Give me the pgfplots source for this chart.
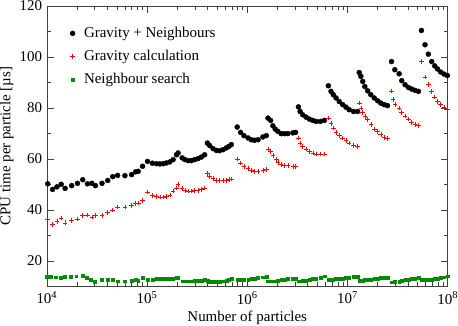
\documentclass[border={0pt 0pt 0pt 1pt}]{standalone}
\usepackage{fontspec}
\setmainfont{Liberation Serif}
\usepackage{pgfplots}
\pgfplotsset{compat=1.18}
\definecolor{ngreen}{RGB}{0,140,0}
\definecolor{pred}{RGB}{255,0,0}
\begin{document}
\fontsize{15}{18}\selectfont
\begin{tikzpicture}
\begin{axis}[
 scale only axis, width=402pt, height=281pt,
 xmode=log, xmin=1e4, xmax=1e8, ymin=10, ymax=120,
 ytick={20,40,60,80,100,120}, minor ytick={10,30,50,70,90,110},
 xtick={1e4,1e5,1e6,1e7,1e8},
 xticklabels={10\textsuperscript{4},10\textsuperscript{5},10\textsuperscript{6},10\textsuperscript{7},10\textsuperscript{8}},
 major tick length=7pt, minor tick length=4pt,
 /pgf/number format/assume math mode=true,
 tick label style={font=\fontsize{15}{18}\selectfont, inner sep=0pt},
 yticklabel style={xshift=-4.5pt},
 xticklabel style={yshift=-5.5pt},
 label style={font=\fontsize{15}{18}\selectfont, inner sep=0pt},
 xlabel={Number of particles}, ylabel={CPU time per particle [µs]},
 xlabel style={yshift=-7pt}, ylabel style={yshift=6pt},
 axis line style={black!75}, every tick/.style={black!75},
 legend style={draw=none, fill=none, at={(0.05,0.94)}, anchor=north west,
   font=\fontsize{15}{18}\selectfont, row sep=6.5pt,
   /tikz/every odd column/.append style={column sep=7pt}},
 legend cell align=left,
]
\addplot[only marks, mark=*, mark size=2.5pt, black] coordinates {
(1.02e4,50.2)(1.14e4,48.0)(1.26e4,49.0)(1.39e4,50.0)(1.52e4,48.4)(1.77e4,49.5)(2.02e4,50.4)(2.28e4,51.8)(2.54e4,50.2)(2.81e4,50.4)(3.05e4,49.5)(3.55e4,50.4)(4.05e4,51.5)(4.54e4,53.0)(5.08e4,53.5)(6.01e4,53.4)(7.01e4,53.8)(7.69e4,54.9)(8.17e4,55.1)(9.02e4,57.1)(1.01e5,59.0)(1.13e5,58.3)(1.24e5,58.1)(1.34e5,58.0)(1.45e5,58.1)(1.56e5,58.4)(1.69e5,58.8)(1.82e5,59.7)(1.97e5,61.6)(2.04e5,62.3)(2.24e5,60.4)(2.38e5,59.7)(2.57e5,59.3)(2.77e5,59.3)(2.99e5,59.7)(3.23e5,60.1)(3.48e5,60.7)(3.76e5,61.6)(4.00e5,66.2)(4.22e5,65.2)(4.56e5,64.0)(4.92e5,63.3)(5.30e5,63.2)(5.73e5,63.6)(6.18e5,64.3)(6.55e5,64.9)(6.93e5,65.6)(7.94e5,72.5)(8.57e5,70.4)(9.27e5,69.1)(1.02e6,68.2)(1.10e6,67.5)(1.18e6,67.3)(1.28e6,67.5)(1.43e6,68.6)(1.55e6,69.1)(1.61e6,76.0)(1.71e6,75.1)(1.80e6,73.0)(1.90e6,71.7)(2.02e6,70.8)(2.18e6,69.9)(2.35e6,69.9)(2.54e6,69.9)(2.85e6,70.2)(3.03e6,70.4)(3.24e6,80.4)(3.37e6,78.6)(3.58e6,77.3)(3.86e6,76.4)(4.17e6,75.6)(4.51e6,75.1)(4.86e6,74.7)(5.36e6,74.7)(5.88e6,75.1)(6.44e6,88.7)(6.85e6,86.5)(7.22e6,85.2)(7.69e6,83.9)(8.28e6,82.5)(8.96e6,81.3)(9.66e6,80.3)(1.04e7,79.3)(1.15e7,78.6)(1.26e7,78.6)(1.31e7,93.9)(1.36e7,92.4)(1.42e7,90.4)(1.49e7,88.4)(1.59e7,86.7)(1.71e7,85.2)(1.85e7,83.9)(2.00e7,82.8)(2.15e7,81.9)(2.32e7,81.3)(2.51e7,80.9)(2.75e7,98.2)(2.97e7,95.0)(3.28e7,93.4)(3.48e7,90.7)(3.76e7,89.1)(4.06e7,88.0)(4.38e7,87.4)(4.73e7,86.9)(5.11e7,86.5)(5.47e7,110.4)(5.94e7,104.8)(6.42e7,101.1)(6.93e7,98.2)(7.43e7,96.5)(7.91e7,95.3)(8.51e7,94.1)(9.19e7,93.3)(9.93e7,92.7)
};
\addlegendentry{Gravity + Neighbours}
\addplot[only marks, mark=+, mark size=2.3pt, pred, line width=0.55pt] coordinates {
(1.02e4,36.4)(1.14e4,34.3)(1.26e4,35.5)(1.39e4,36.8)(1.52e4,34.9)(1.77e4,35.8)(2.02e4,36.4)(2.28e4,37.7)(2.54e4,38.0)(2.81e4,37.1)(3.05e4,37.7)(3.55e4,37.7)(4.05e4,39.0)(4.54e4,40.0)(5.08e4,41.1)(6.01e4,41.1)(7.01e4,41.6)(7.69e4,42.4)(8.17e4,42.7)(9.02e4,43.7)(1.01e5,47.0)(1.13e5,45.7)(1.24e5,45.3)(1.34e5,45.1)(1.45e5,45.1)(1.56e5,45.3)(1.69e5,45.8)(1.82e5,47.3)(1.97e5,48.6)(2.04e5,49.9)(2.24e5,48.3)(2.38e5,47.5)(2.57e5,47.3)(2.77e5,47.3)(2.99e5,47.5)(3.23e5,47.6)(3.48e5,47.9)(3.76e5,48.6)(4.00e5,54.2)(4.22e5,53.1)(4.56e5,52.2)(4.92e5,51.6)(5.30e5,51.4)(5.73e5,51.6)(6.18e5,51.6)(6.55e5,51.8)(6.93e5,52.1)(7.94e5,60.0)(8.57e5,58.4)(9.27e5,57.1)(1.02e6,56.2)(1.10e6,55.4)(1.18e6,55.1)(1.28e6,55.1)(1.43e6,55.4)(1.55e6,55.8)(1.61e6,63.9)(1.71e6,62.9)(1.80e6,61.3)(1.95e6,59.7)(2.02e6,58.6)(2.18e6,57.7)(2.35e6,57.3)(2.54e6,57.3)(2.85e6,57.1)(3.03e6,57.1)(3.24e6,68.2)(3.37e6,66.2)(3.58e6,64.9)(3.86e6,63.9)(4.17e6,62.9)(4.51e6,62.3)(4.86e6,61.9)(5.36e6,61.9)(5.88e6,61.9)(6.44e6,76.0)(6.85e6,73.8)(7.22e6,72.1)(7.69e6,70.4)(8.28e6,69.1)(8.96e6,68.2)(9.66e6,67.3)(1.04e7,66.2)(1.15e7,65.2)(1.26e7,64.9)(1.31e7,81.9)(1.36e7,79.9)(1.42e7,78.2)(1.49e7,76.7)(1.59e7,75.4)(1.71e7,73.4)(1.85e7,71.8)(2.00e7,70.7)(2.15e7,69.5)(2.32e7,68.3)(2.51e7,67.9)(2.75e7,86.7)(2.86e7,83.2)(2.97e7,81.3)(3.28e7,79.9)(3.48e7,78.2)(3.76e7,76.9)(4.06e7,75.6)(4.38e7,74.3)(4.73e7,73.4)(5.11e7,73.0)(5.47e7,98.2)(5.94e7,92.1)(6.42e7,89.1)(6.93e7,86.5)(7.43e7,84.3)(7.91e7,82.5)(8.51e7,81.3)(9.19e7,80.2)(9.93e7,79.3)
};
\addlegendentry{Gravity calculation}
\addplot[only marks, mark=square*, mark size=1.4pt, ngreen] coordinates {
(1.00e4,13.7)(1.10e4,13.6)(1.22e4,13.5)(1.37e4,13.3)(1.52e4,13.7)(1.74e4,13.7)(1.96e4,13.9)(2.26e4,14.2)(2.49e4,13.3)(2.75e4,12.4)(3.01e4,11.8)(3.50e4,12.4)(4.05e4,12.6)(4.54e4,12.4)(5.08e4,12.0)(6.01e4,12.0)(7.01e4,12.2)(7.69e4,12.6)(8.17e4,12.2)(9.02e4,13.3)(1.01e5,12.6)(1.13e5,12.7)(1.24e5,12.8)(1.34e5,12.8)(1.45e5,12.8)(1.56e5,12.9)(1.69e5,12.9)(1.82e5,13.0)(1.97e5,13.2)(2.04e5,13.3)(2.24e5,12.0)(2.38e5,12.0)(2.57e5,12.0)(2.77e5,12.0)(2.99e5,12.1)(3.23e5,12.2)(3.48e5,12.3)(3.76e5,12.6)(4.00e5,12.2)(4.22e5,11.9)(4.56e5,11.9)(4.92e5,11.9)(5.30e5,11.9)(5.73e5,12.0)(6.18e5,12.2)(6.55e5,12.5)(6.93e5,13.0)(7.94e5,12.5)(8.57e5,12.5)(9.27e5,12.6)(1.02e6,12.7)(1.10e6,12.9)(1.18e6,13.0)(1.28e6,13.2)(1.43e6,13.5)(1.55e6,13.7)(1.61e6,12.0)(1.71e6,12.0)(1.80e6,12.0)(1.90e6,12.0)(2.02e6,12.2)(2.18e6,12.4)(2.35e6,12.6)(2.54e6,12.8)(2.85e6,13.0)(3.03e6,13.0)(3.24e6,12.0)(3.37e6,12.0)(3.58e6,12.1)(3.86e6,12.3)(4.17e6,12.5)(4.51e6,12.8)(4.86e6,13.0)(5.36e6,13.3)(5.88e6,13.9)(6.44e6,12.6)(6.85e6,12.6)(7.22e6,12.7)(7.69e6,12.8)(8.28e6,13.0)(8.96e6,13.1)(9.66e6,13.3)(1.04e7,13.4)(1.15e7,13.6)(1.26e7,13.7)(1.31e7,12.2)(1.36e7,12.2)(1.42e7,12.3)(1.49e7,12.4)(1.59e7,12.5)(1.71e7,12.7)(1.85e7,12.8)(2.00e7,13.0)(2.15e7,13.2)(2.32e7,13.3)(2.51e7,13.4)(2.75e7,11.6)(2.97e7,11.7)(3.28e7,11.9)(3.48e7,12.1)(3.76e7,12.4)(4.06e7,12.7)(4.38e7,12.9)(4.73e7,13.1)(5.11e7,13.3)(5.47e7,12.4)(5.94e7,12.4)(6.42e7,12.5)(6.93e7,12.6)(7.43e7,12.8)(7.91e7,13.0)(8.51e7,13.2)(9.19e7,13.5)(9.93e7,13.9)
};
\addlegendentry{Neighbour search}
\end{axis}
\end{tikzpicture}
\end{document}
